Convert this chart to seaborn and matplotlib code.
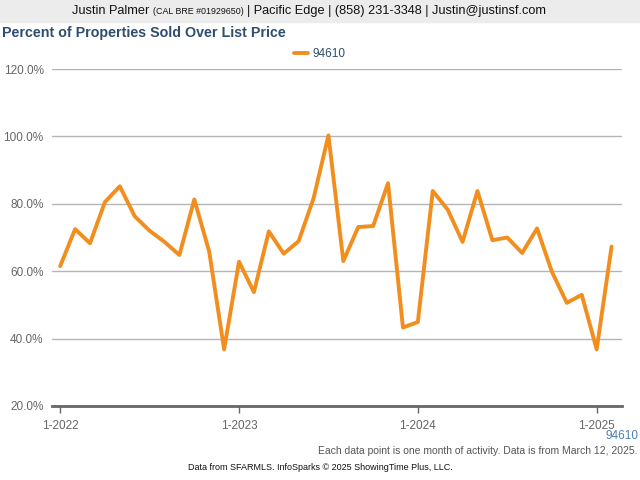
import matplotlib.pyplot as plt
import seaborn as sns
import pandas as pd

# monthly values, Jan 2022 .. Feb 2025
months = list(range(38))
pct_over = [61.5, 72.5, 68.3, 80.5, 85.2, 76.3, 72.0, 68.7, 64.8, 81.3, 65.8, 36.8,
            62.8, 53.8, 71.8, 65.2, 68.9, 81.6, 100.3, 63.0, 73.1, 73.4, 86.1, 43.3,
            44.9, 83.8, 78.3, 68.7, 83.8, 69.2, 70.0, 65.4, 72.7, 59.8, 50.6, 53.0,
            36.8, 67.3]
year_ticks = [0, 12, 24, 36]
year_labels = ["1-2022", "1-2023", "1-2024", "1-2025"]
y_ticks = [20, 40, 60, 80, 100, 120]

df = pd.DataFrame({"month": months, "pct": pct_over})

sns.set_style("white")
plt.rcParams['font.family'] = ['Liberation Sans', 'DejaVu Sans']
narrow = ['Liberation Sans Narrow', 'Liberation Sans', 'DejaVu Sans']

fig = plt.figure(figsize=(6.4, 4.8), dpi=100)
ax = fig.add_axes([52 / 640, 1 - 406 / 480, 570 / 640, 337 / 480])

sns.lineplot(data=df, x="month", y="pct", color="#f28e1e", linewidth=2.8,
             label="94610", ax=ax, legend=False)

ax.set_xlim(-0.55, 37.7)
ax.set_ylim(20, 120)
ax.set_yticks(y_ticks)
ax.set_yticklabels([f"{v:.1f}%" for v in y_ticks])
ax.set_xticks(year_ticks)
ax.set_xticklabels(year_labels)
ax.set_xlabel("")
ax.set_ylabel("")
ax.grid(axis="y", color="#b5b5b5", linewidth=1)
for s in ["left", "right", "top"]:
    ax.spines[s].set_visible(False)
ax.spines["bottom"].set_color("#666666")
ax.spines["bottom"].set_linewidth(2)
ax.tick_params(axis="x", colors="#666666", labelsize=8.5, length=5, width=1,
               direction="out", bottom=True, labelcolor="#666666", pad=5)
ax.tick_params(axis="y", colors="#666666", labelsize=8.5, length=0, pad=6)

# header band
fig.patches.append(plt.Rectangle((0, 1 - 22 / 480), 1, 22 / 480, transform=fig.transFigure,
                                 color="#ececec", zorder=0))
t1 = fig.text(72 / 640, 1 - 11 / 480, "Justin Palmer", fontsize=9.2, va="center",
              color="#111111", family=narrow)
t2 = fig.text(0, 0, "(CAL BRE #01929650)", fontsize=6.4, va="center", color="#111111",
              family=narrow)
t3 = fig.text(0, 0, "| Pacific Edge | (858) 231-3348 | Justin@justinsf.com", fontsize=9.2,
              va="center", color="#111111", family=narrow)
fig.canvas.draw()
r = fig.canvas.get_renderer()
x1 = t1.get_window_extent(r).x1 + 4
t2.set_position((x1 / 640, 1 - 11 / 480))
fig.canvas.draw()
x2 = t2.get_window_extent(r).x1 + 3
t3.set_position((x2 / 640, 1 - 11 / 480))

fig.text(2 / 640, 1 - 33 / 480, "Percent of Properties Sold Over List Price", fontsize=10.3,
         fontweight="bold", color="#2e4e70", va="center")

fig.legend(loc="center", bbox_to_anchor=(0.5, 1 - 54 / 480), frameon=False, fontsize=8.5,
           handlelength=1.2, handletextpad=0.4, labelcolor="#2e4e70")

fig.text(638 / 640, 1 - 436 / 480, "94610", fontsize=8.5, color="#4f7fb0", ha="right", va="center")
fig.text(637 / 640, 1 - 451 / 480,
         "Each data point is one month of activity. Data is from March 12, 2025.",
         fontsize=7.5, color="#555555", ha="right", va="center")
fig.text(320 / 640, 1 - 468 / 480,
         "Data from SFARMLS. InfoSparks \u00a9 2025 ShowingTime Plus, LLC.",
         fontsize=6.5, color="#111111", ha="center", va="center")

fig.savefig("out.png", dpi=100)
